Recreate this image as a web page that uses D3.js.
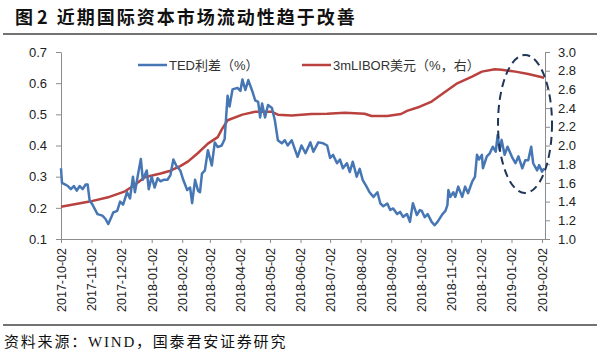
<!DOCTYPE html>
<html lang="zh">
  <head>
    <meta charset="UTF-8" />
    <title>近期国际资本市场流动性趋于改善</title>
    <style>
      body { margin: 0; background: #fff; }
      svg { display: block; font-family: "Liberation Sans", "Noto Sans CJK SC", sans-serif; }
      .axis path, .axis line { stroke: #8c8c8c; }
      .axis text { fill: #222; }
    </style>
  </head>
  <body>
    <svg width="600" height="353"></svg>

    <script src="https://d3js.org/d3.v7.min.js"></script>
    <script>
      // TED spread (%), left axis
      const tedDates = [
        "2017-10-02","2017-10-03","2017-10-06","2017-10-09","2017-10-12","2017-10-15","2017-10-18","2017-10-21",
        "2017-10-24","2017-10-27","2017-10-29","2017-10-31","2017-11-03","2017-11-08","2017-11-13","2017-11-16",
        "2017-11-19","2017-11-22","2017-11-24","2017-11-28","2017-12-01","2017-12-04","2017-12-08","2017-12-11",
        "2017-12-14","2017-12-16","2017-12-19","2017-12-22","2017-12-24","2017-12-28","2017-12-30","2018-01-02",
        "2018-01-05","2018-01-08","2018-01-11","2018-01-14","2018-01-18","2018-01-21","2018-01-24","2018-01-27",
        "2018-01-31","2018-02-03","2018-02-07","2018-02-10","2018-02-12","2018-02-15","2018-02-18","2018-02-20",
        "2018-02-22","2018-02-25","2018-02-28","2018-03-04","2018-03-07","2018-03-10","2018-03-14","2018-03-17",
        "2018-03-20","2018-03-22","2018-03-25","2018-03-30","2018-04-02","2018-04-04","2018-04-07","2018-04-10",
        "2018-04-14","2018-04-17","2018-04-20","2018-04-22","2018-04-24","2018-04-27","2018-04-30","2018-05-04",
        "2018-05-07","2018-05-10","2018-05-14","2018-05-17","2018-05-20","2018-05-24","2018-05-27","2018-05-30",
        "2018-06-03","2018-06-07","2018-06-12","2018-06-15","2018-06-20","2018-06-25","2018-06-29","2018-07-02",
        "2018-07-05","2018-07-09","2018-07-12","2018-07-15","2018-07-19","2018-07-22","2018-07-25","2018-07-29",
        "2018-08-01","2018-08-04","2018-08-08","2018-08-11","2018-08-15","2018-08-19","2018-08-22","2018-08-25",
        "2018-08-29","2018-09-01","2018-09-04","2018-09-08","2018-09-11","2018-09-14","2018-09-18","2018-09-21",
        "2018-09-24","2018-09-28","2018-10-01","2018-10-03","2018-10-06","2018-10-09","2018-10-13","2018-10-16",
        "2018-10-19","2018-10-24","2018-10-27","2018-10-29","2018-10-30","2018-11-01","2018-11-04","2018-11-06",
        "2018-11-09","2018-11-13","2018-11-16","2018-11-19","2018-11-23","2018-11-26","2018-11-28","2018-11-30",
        "2018-12-03","2018-12-04","2018-12-08","2018-12-11","2018-12-14","2018-12-17","2018-12-19","2018-12-21",
        "2018-12-23","2018-12-26","2018-12-29","2019-01-03","2019-01-06","2019-01-09","2019-01-13","2019-01-16",
        "2019-01-19","2019-01-22","2019-01-24","2019-01-28","2019-01-30","2019-02-02","2019-02-04"
      ];
      const tedValues = [
        0.327,0.28,0.275,0.27,0.26,0.27,0.255,0.27,
        0.26,0.275,0.275,0.225,0.21,0.18,0.175,0.165,
        0.148,0.17,0.185,0.19,0.22,0.21,0.25,0.23,
        0.30,0.25,0.305,0.357,0.29,0.32,0.26,0.30,
        0.265,0.295,0.285,0.29,0.29,0.305,0.355,0.335,
        0.32,0.29,0.257,0.265,0.215,0.29,0.255,0.25,
        0.31,0.32,0.385,0.336,0.41,0.395,0.40,0.42,
        0.56,0.525,0.58,0.585,0.575,0.612,0.578,0.61,
        0.575,0.545,0.54,0.49,0.535,0.49,0.53,0.52,
        0.48,0.417,0.407,0.417,0.40,0.417,0.39,0.364,
        0.40,0.375,0.41,0.38,0.41,0.407,0.40,0.36,
        0.37,0.343,0.355,0.327,0.343,0.315,0.348,0.30,
        0.325,0.29,0.268,0.25,0.235,0.25,0.214,0.205,
        0.214,0.193,0.198,0.18,0.187,0.171,0.18,0.155,
        0.215,0.177,0.193,0.19,0.17,0.18,0.155,0.144,
        0.155,0.18,0.19,0.209,0.257,0.235,0.25,0.235,
        0.268,0.235,0.268,0.247,0.283,0.30,0.37,0.355,
        0.37,0.327,0.365,0.375,0.396,0.38,0.434,0.385,
        0.418,0.37,0.396,0.36,0.343,0.365,0.327,0.353,
        0.353,0.396,0.343,0.32,0.337,0.316,0.327
      ];

      // 3m USD LIBOR (%), right axis
      const liborDates = [
        "2017-10-02","2017-10-31","2017-11-20","2017-12-06","2017-12-16","2017-12-26","2018-01-11","2018-01-21",
        "2018-01-31","2018-02-08","2018-02-18","2018-02-28","2018-03-10","2018-03-14","2018-03-20","2018-04-04",
        "2018-04-17","2018-05-04","2018-05-10","2018-05-24","2018-06-13","2018-06-29","2018-07-17","2018-08-06",
        "2018-08-13","2018-08-29","2018-09-12","2018-09-18","2018-10-01","2018-10-13","2018-10-29","2018-11-08",
        "2018-11-23","2018-12-03","2018-12-16","2018-12-23","2019-01-06","2019-01-19","2019-02-02","2019-02-04"
      ];
      const liborValues = [
        1.345,1.40,1.45,1.51,1.58,1.66,1.70,1.73,
        1.78,1.83,1.92,2.02,2.09,2.17,2.27,2.33,
        2.36,2.36,2.33,2.32,2.337,2.34,2.35,2.34,
        2.316,2.316,2.337,2.37,2.415,2.47,2.59,2.665,
        2.736,2.79,2.815,2.81,2.79,2.765,2.73,2.72
      ];

      const xTicks = [
        "2017-10-02","2017-11-02","2017-12-02","2018-01-02","2018-02-02","2018-03-02","2018-04-02","2018-05-02",
        "2018-06-02","2018-07-02","2018-08-02","2018-09-02","2018-10-02","2018-11-02","2018-12-02","2019-01-02",
        "2019-02-02"
      ];
      const leftTicks = [0.1, 0.2, 0.3, 0.4, 0.5, 0.6, 0.7];
      const rightTicks = [1.0, 1.2, 1.4, 1.6, 1.8, 2.0, 2.2, 2.4, 2.6, 2.8, 3.0];

      const parse = d3.utcParse("%Y-%m-%d");
      const ted = tedDates.map((d, i) => ({ date: parse(d), v: tedValues[i] }));
      const libor = liborDates.map((d, i) => ({ date: parse(d), v: liborValues[i] }));

      const plotLeft = 61, plotRight = 545, plotTop = 52, plotBottom = 239;

      const svg = d3.select("svg");

      const x = d3.scaleUtc()
        .domain([parse("2017-10-02"), parse("2019-02-05")])
        .range([plotLeft, plotRight]);
      const yL = d3.scaleLinear().domain([0.1, 0.7]).range([plotBottom, plotTop]);
      const yR = d3.scaleLinear().domain([1.0, 3.0]).range([plotBottom, plotTop]);

      // title
      const title = svg.append("text")
        .attr("x", 15).attr("y", 24)
        .attr("font-family", "'Noto Sans CJK SC', sans-serif")
        .attr("font-weight", "bold")
        .attr("font-size", 18)
        .attr("fill", "#111");
      title.append("tspan").text("图 2");
      title.append("tspan").attr("dx", 9).attr("letter-spacing", 2).text("近期国际资本市场流动性趋于改善");
      svg.append("line")
        .attr("x1", 3).attr("x2", 597).attr("y1", 34).attr("y2", 34)
        .attr("stroke", "#444").attr("stroke-width", 1.5);

      // axes
      svg.append("g").attr("class", "axis")
        .attr("transform", `translate(${plotLeft},0)`)
        .call(d3.axisLeft(yL).tickValues(leftTicks).tickSize(5).tickSizeOuter(0).tickPadding(9).tickFormat(d3.format(".1f")))
        .call((g) => g.selectAll("text").attr("font-size", 13));

      svg.append("g").attr("class", "axis")
        .attr("transform", `translate(${plotRight},0)`)
        .call(d3.axisRight(yR).tickValues(rightTicks).tickSize(5).tickSizeOuter(0).tickPadding(8).tickFormat(d3.format(".1f")))
        .call((g) => g.selectAll("text").attr("font-size", 13));

      svg.append("g").attr("class", "axis")
        .attr("transform", `translate(0,${plotBottom})`)
        .call(d3.axisBottom(x).tickValues(xTicks.map(parse)).tickSize(4).tickSizeOuter(0).tickFormat(d3.utcFormat("%Y-%m-%d")))
        .call((g) => g.selectAll("text")
          .attr("font-size", 12.5)
          .attr("transform", "rotate(-90)")
          .attr("text-anchor", "end")
          .attr("x", -9)
          .attr("y", 0)
          .attr("dy", "0.35em"));

      // lines
      const lineL = d3.line().x((d) => x(d.date)).y((d) => yL(d.v));
      const lineR = d3.line().x((d) => x(d.date)).y((d) => yR(d.v));

      svg.append("path").datum(libor)
        .attr("d", lineR)
        .attr("fill", "none").attr("stroke", "#b9413e").attr("stroke-width", 2.5)
        .attr("stroke-linejoin", "round");

      svg.append("path").datum(ted)
        .attr("d", lineL)
        .attr("fill", "none").attr("stroke", "#4677b4").attr("stroke-width", 2.5)
        .attr("stroke-linejoin", "round");

      // highlight ellipse
      svg.append("ellipse")
        .attr("cx", 525).attr("cy", 124).attr("rx", 27).attr("ry", 69)
        .attr("fill", "none").attr("stroke", "#1f3657").attr("stroke-width", 2)
        .attr("stroke-dasharray", "8,5");

      // legend
      const legend = [
        { name: "TED利差（%）", color: "#4677b4", x: 138 },
        { name: "3mLIBOR美元（%，右）", color: "#b9413e", x: 302 }
      ];
      const lg = svg.append("g");
      legend.forEach((d) => {
        lg.append("line")
          .attr("x1", d.x).attr("x2", d.x + 29).attr("y1", 65).attr("y2", 65)
          .attr("stroke", d.color).attr("stroke-width", 2.5);
        lg.append("text")
          .attr("x", d.x + 31).attr("y", 65).attr("dy", "0.35em")
          .attr("font-size", 13).attr("fill", "#333")
          .text(d.name);
      });

      // source
      svg.append("line")
        .attr("x1", 3).attr("x2", 597).attr("y1", 325).attr("y2", 325)
        .attr("stroke", "#444").attr("stroke-width", 1.5);
      svg.append("text")
        .attr("x", 4).attr("y", 347)
        .attr("font-family", "'Liberation Serif', 'Noto Sans CJK SC', serif")
        .attr("font-size", 15)
        .attr("letter-spacing", 1.8)
        .attr("fill", "#111")
        .text("资料来源：WIND，国泰君安证券研究");
    </script>
  </body>
</html>
